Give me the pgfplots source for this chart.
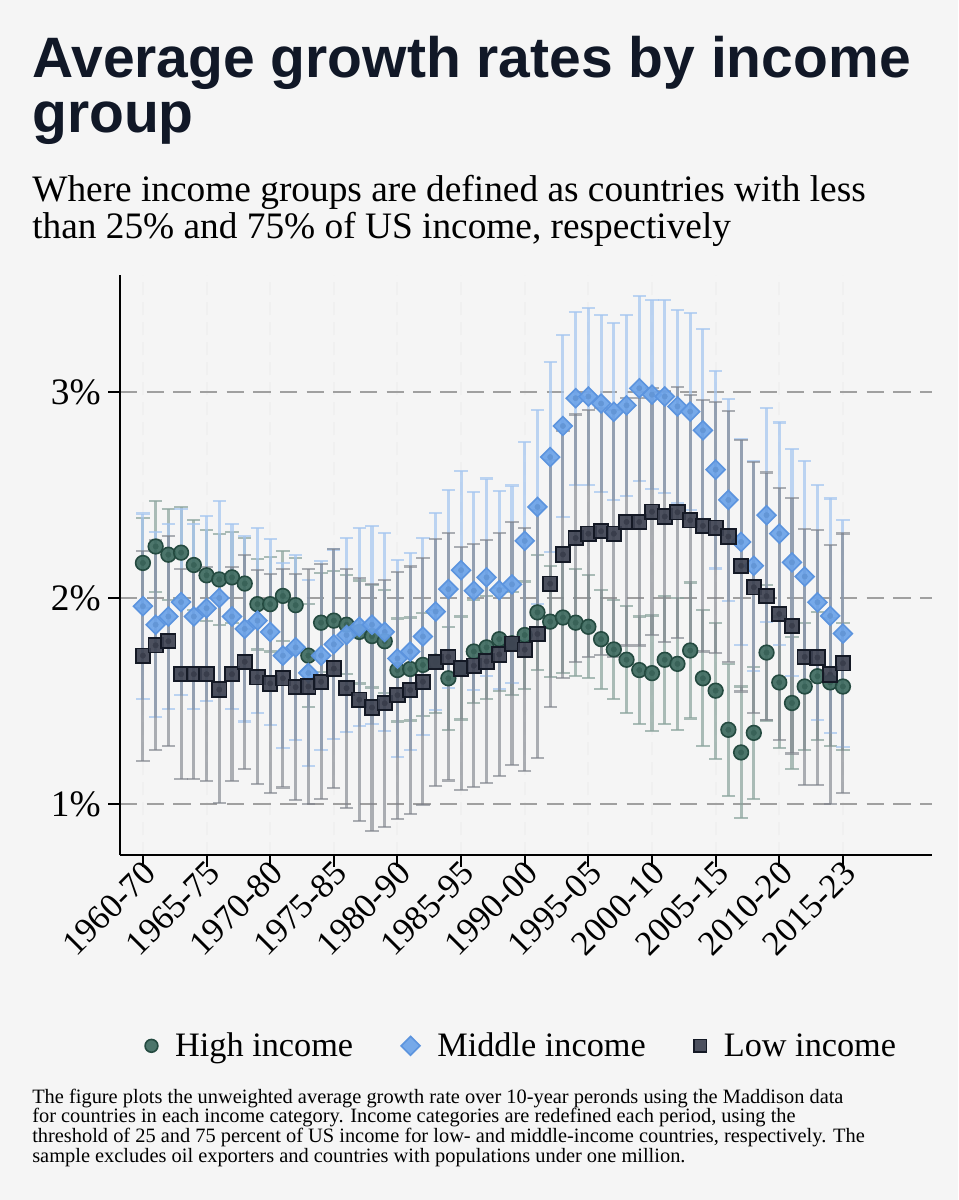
\documentclass[border=0pt]{standalone}
\usepackage{pgfplots}
\pgfplotsset{compat=1.18}
\usepackage{pgfplotstable}
\usepackage{fontspec}
\setmainfont{Liberation Serif}
\newfontfamily\titlefont{Liberation Sans}
\definecolor{bg}{RGB}{245,245,245}
\definecolor{titlecol}{RGB}{17,24,39}
\definecolor{hifill}{RGB}{62,107,96}
\definecolor{hidraw}{RGB}{36,74,64}
\definecolor{hibar}{RGB}{140,165,158}
\definecolor{mifill}{RGB}{108,163,233}
\definecolor{midraw}{RGB}{92,148,222}
\definecolor{mibar}{RGB}{165,198,240}
\definecolor{lofill}{RGB}{62,67,82}
\definecolor{lodraw}{RGB}{20,25,37}
\definecolor{lobar}{RGB}{125,129,138}
\definecolor{gridcol}{RGB}{160,160,160}
\pgfplotsset{legimg/.style={legend image code/.code={\draw[##1, mark size=#1] plot coordinates {(0cm,0cm)};}}}

\pgfplotstableread{
x h he m me l le
0 2.17 0.22 1.96 0.45 1.72 0.51
1 2.25 0.22 1.87 0.45 1.77 0.51
2 2.21 0.22 1.91 0.45 1.79 0.51
3 2.22 0.22 1.98 0.45 1.63 0.51
4 2.16 0.22 1.91 0.45 1.63 0.51
5 2.11 0.22 1.95 0.45 1.63 0.52
6 2.09 0.22 2.00 0.47 1.555 0.55
7 2.10 0.22 1.91 0.45 1.63 0.52
8 2.07 0.22 1.85 0.45 1.69 0.52
9 1.97 0.22 1.89 0.45 1.615 0.52
10 1.97 0.23 1.835 0.45 1.585 0.53
11 2.01 0.22 1.72 0.45 1.61 0.53
12 1.965 0.23 1.76 0.45 1.567 0.55
13 1.72 0.25 1.636 0.45 1.57 0.57
14 1.88 0.24 1.72 0.46 1.593 0.57
15 1.89 0.24 1.775 0.46 1.657 0.58
16 1.87 0.24 1.82 0.47 1.562 0.58
17 1.835 0.25 1.86 0.48 1.506 0.59
18 1.815 0.25 1.87 0.48 1.468 0.60
19 1.79 0.25 1.835 0.48 1.489 0.60
20 1.65 0.25 1.706 0.48 1.528 0.60
21 1.655 0.25 1.74 0.48 1.553 0.60
22 1.675 0.25 1.813 0.48 1.593 0.60
23 1.69 0.25 1.934 0.48 1.688 0.60
24 1.61 0.25 2.043 0.48 1.714 0.60
25 1.66 0.25 2.135 0.48 1.657 0.59
26 1.74 0.25 2.035 0.48 1.671 0.59
27 1.76 0.25 2.10 0.48 1.692 0.59
28 1.80 0.25 2.038 0.48 1.726 0.59
29 1.78 0.25 2.066 0.48 1.778 0.59
30 1.82 0.26 2.277 0.48 1.749 0.59
31 1.93 0.28 2.442 0.47 1.825 0.60
32 1.885 0.27 2.684 0.46 2.069 0.60
33 1.905 0.27 2.835 0.44 2.211 0.60
34 1.88 0.26 2.97 0.42 2.291 0.60
35 1.86 0.25 2.978 0.43 2.312 0.60
36 1.80 0.24 2.944 0.43 2.324 0.60
37 1.75 0.24 2.904 0.43 2.312 0.60
38 1.70 0.26 2.935 0.44 2.369 0.60
39 1.65 0.26 3.018 0.45 2.369 0.60
40 1.635 0.28 2.987 0.46 2.419 0.60
41 1.70 0.31 2.978 0.47 2.395 0.61
42 1.68 0.32 2.93 0.47 2.416 0.61
43 1.745 0.33 2.905 0.48 2.377 0.61
44 1.61 0.33 2.814 0.49 2.35 0.61
45 1.55 0.33 2.623 0.48 2.341 0.61
46 1.36 0.32 2.476 0.49 2.298 0.61
47 1.25 0.32 2.272 0.50 2.156 0.61
48 1.345 0.32 2.156 0.51 2.052 0.61
49 1.735 0.33 2.402 0.52 2.009 0.60
50 1.59 0.32 2.312 0.54 1.922 0.61
51 1.49 0.32 2.173 0.55 1.865 0.62
52 1.57 0.31 2.104 0.56 1.714 0.62
53 1.62 0.31 1.979 0.57 1.711 0.62
54 1.59 0.31 1.913 0.57 1.628 0.63
55 1.57 0.31 1.827 0.55 1.683 0.63
}\data

\begin{document}
\begin{tikzpicture}
\fill[bg] (0,0) rectangle (718.5pt,-900pt);
\useasboundingbox (0,0) rectangle (718.5pt,-900pt);

\node[anchor=base west, inner sep=0pt, text=titlecol, font=\titlefont\bfseries\fontsize{42.75}{44}\selectfont] at (24pt,-57.75pt) {Average growth rates by income};
\node[anchor=base west, inner sep=0pt, text=titlecol, font=\titlefont\bfseries\fontsize{42.75}{44}\selectfont] at (24pt,-99pt) {group};

\node[anchor=base west, inner sep=0pt, font=\fontsize{28}{29}\selectfont] at (24pt,-150.75pt) {Where income groups are defined as countries with less};
\node[anchor=base west, inner sep=0pt, font=\fontsize{28}{29}\selectfont] at (24pt,-178.5pt) {than 25\% and 75\% of US income, respectively};

\begin{scope}[font=\fontsize{15.3}{16}\selectfont]
\node[anchor=base west, inner sep=0pt] at (24pt,-827.5pt) {The figure plots the unweighted average growth rate over 10-year peronds using the Maddison data};
\node[anchor=base west, inner sep=0pt] at (24pt,-842.2pt) {for countries in each income category. Income categories are redefined each period, using the};
\node[anchor=base west, inner sep=0pt] at (24pt,-856.9pt) {threshold of 25 and 75 percent of US income for low- and middle-income countries, respectively. The};
\node[anchor=base west, inner sep=0pt] at (24pt,-871.6pt) {sample excludes oil exporters and countries with populations under one million.};
\end{scope}

\begin{axis}[
  at={(90pt,-641.25pt)}, anchor=south west,
  scale only axis, width=609pt, height=435pt,
  xmin=-1.8, xmax=62, ymin=0.752, ymax=3.568,
  axis lines*=left,
  axis line style={black, line width=1.5pt},
  tick align=outside, major tick length=9pt,
  tick style={black, line width=1.5pt},
  ytick={1,2,3}, yticklabels={1\%,2\%,3\%},
  xtick={0,5,...,55},
  xticklabels={1960-70,1965-75,1970-80,1975-85,1980-90,1985-95,1990-00,1995-05,2000-10,2005-15,2010-20,2015-23},
  yticklabel style={font=\fontsize{28}{28}\selectfont, xshift=-2pt},
  xticklabel style={rotate=45, anchor=east, font=\fontsize{26}{26}\selectfont, xshift=7pt, yshift=-4pt},
  xmajorgrids, ymajorgrids,
  major x grid style={color=black!6, line width=1.5pt, dash pattern=on 10pt off 5pt},
  major y grid style={color=gridcol, line width=1.8pt, dash pattern=on 13pt off 7pt},
  legend columns=3,
  legend style={at={(0.495,-0.329)}, anchor=center, draw=none, fill=none,
    font=\fontsize{25.7}{25.7}\selectfont,
    /tikz/every odd column/.append style={column sep=11pt},
    /tikz/every even column/.append style={column sep=34pt}},
  legend cell align=left,
]
\addplot[forget plot, only marks, mark=none, error bars/.cd, y dir=both, y explicit,
  error bar style={draw=hibar, draw opacity=0.72, line width=2.3pt},
  error mark options={rotate=90, draw=hibar, draw opacity=0.72, line width=1.6pt, mark size=5pt}]
  table[x=x, y=h, y error=he]{\data};
\addplot[forget plot, only marks, mark=none, error bars/.cd, y dir=both, y explicit,
  error bar style={draw=mibar, draw opacity=0.72, line width=2.3pt},
  error mark options={rotate=90, draw=mibar, draw opacity=0.72, line width=1.6pt, mark size=5pt}]
  table[x=x, y=m, y error=me]{\data};
\addplot[forget plot, only marks, mark=none, error bars/.cd, y dir=both, y explicit,
  error bar style={draw=lobar, draw opacity=0.62, line width=2.3pt},
  error mark options={rotate=90, draw=lobar, draw opacity=0.62, line width=1.6pt, mark size=5pt}]
  table[x=x, y=l, y error=le]{\data};

\addplot[only marks, mark=*, mark size=5.5pt,
  mark options={fill=hifill, draw=hidraw, line width=1.2pt, fill opacity=0.92},
  legimg=4.8pt]
  table[x=x, y=h]{\data};
\addlegendentry{High income}
\addplot[only marks, mark=square*, mark size=5pt,
  mark options={rotate=45, fill=mifill, draw=midraw, line width=1.2pt, fill opacity=0.92},
  legimg=5pt]
  table[x=x, y=m]{\data};
\addlegendentry{Middle income}
\addplot[only marks, mark=square*, mark size=5.4pt,
  mark options={fill=lofill, draw=lodraw, line width=1.4pt, fill opacity=0.92},
  legimg=4.8pt]
  table[x=x, y=l]{\data};
\addlegendentry{Low income}
\end{axis}
\end{tikzpicture}
\end{document}
